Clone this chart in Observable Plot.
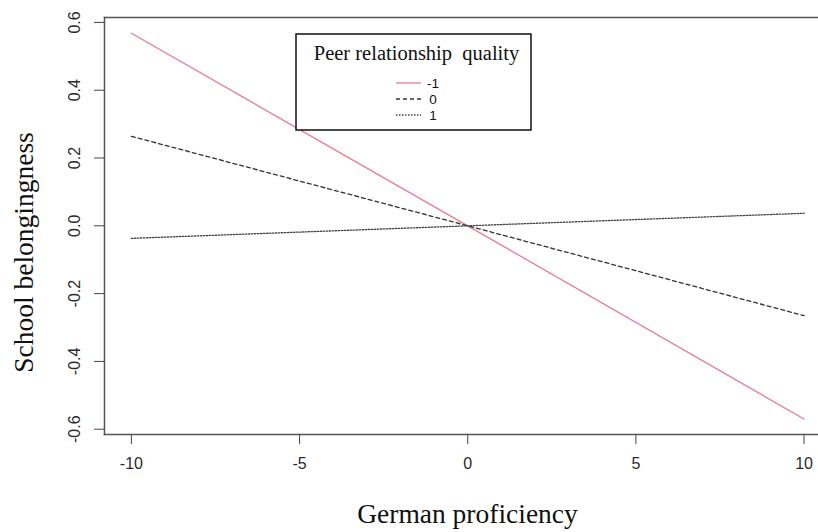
<!DOCTYPE html>
<html>
<head>
<meta charset="utf-8">
<script src="https://cdn.jsdelivr.net/npm/d3@7"></script>
<script src="https://cdn.jsdelivr.net/npm/@observablehq/plot@0.6"></script>
<style>
  html, body { margin: 0; padding: 0; background: #fff; }
  #chart svg { display: block; }
  #chart g[aria-label$="tick label"] { font-size: 16px; }
</style>
</head>
<body>
<div id="chart"></div>
<script>
// ---- data ----
const proficiency = [-10, 0, 10];
const levels = ["-1", "0", "1"];
const belongingLow = [0.568, 0.0, -0.570];   // peer quality -1
const belongingMid = [0.264, 0.0, -0.265];   // peer quality 0
const belongingHigh = [-0.037, 0.0, 0.037];  // peer quality 1
const xTicks = [-10, -5, 0, 5, 10];
const yTicks = [-0.6, -0.4, -0.2, 0.0, 0.2, 0.4, 0.6];
const xTitle = "German proficiency";
const yTitle = "School belongingness";
const legendTitle = "Peer relationship\u00A0 quality";

// ---- styles ----
const seriesStyles = [
  {stroke: "#e57b8d", strokeWidth: 1.3, strokeDasharray: null},
  {stroke: "#333333", strokeWidth: 1.3, strokeDasharray: "4,3"},
  {stroke: "#444444", strokeWidth: 1.3, strokeDasharray: "1.5,1.5"}
];
const seriesValues = [belongingLow, belongingMid, belongingHigh];
const rows = seriesValues.map(vals => proficiency.map((x, i) => ({x, y: vals[i]})));

const W = 818, H = 532;
const sansFont = "Liberation Sans, Arial, sans-serif";
const serifFont = "Liberation Serif, Times New Roman, serif";

const plot = Plot.plot({
  width: W,
  height: H,
  marginLeft: 104,
  marginRight: 0,
  marginTop: 17,
  marginBottom: 98,
  style: {fontFamily: sansFont, fontSize: "16px", color: "#2a2a2a", background: "#fff"},
  x: {domain: [-10.8, 10.43]},
  y: {domain: [-0.6156, 0.6145]},
  marks: [
    Plot.frame({anchor: "left", stroke: "#555", strokeWidth: 1.5}),
    Plot.frame({anchor: "top", stroke: "#555", strokeWidth: 1.5}),
    Plot.frame({anchor: "bottom", stroke: "#555", strokeWidth: 1.5}),
    Plot.axisX({ticks: xTicks, tickSize: 10, tickPadding: 13, tickFormat: d => String(d),
                label: null, stroke: "#444", fontSize: 16}),
    Plot.axisY({ticks: yTicks, tickSize: 10, tickPadding: 15, tickRotate: -90,
                tickFormat: d => d.toFixed(1), label: null, stroke: "#444", fontSize: 16}),
    ...rows.map((data, k) => Plot.line(data, {x: "x", y: "y", ...seriesStyles[k],
                                              strokeDasharray: seriesStyles[k].strokeDasharray || undefined}))
  ]
});

document.getElementById("chart").appendChild(plot);

// ---- axis titles and legend (pixel overlay) ----
const svg = d3.select(plot);
svg.append("text")
  .attr("x", 467.5).attr("y", 523)
  .attr("text-anchor", "middle")
  .style("font-family", serifFont).style("font-size", "27.5px").style("fill", "#111")
  .text(xTitle);
svg.append("text")
  .attr("transform", "translate(32.5,252.5) rotate(-90)")
  .attr("text-anchor", "middle")
  .style("font-family", serifFont).style("font-size", "27.5px").style("fill", "#111")
  .text(yTitle);

const lg = svg.append("g");
lg.append("rect").attr("x", 296).attr("y", 34).attr("width", 235).attr("height", 96)
  .attr("fill", "#fff").attr("stroke", "#111").attr("stroke-width", 1.5);
lg.append("text").attr("x", 416.5).attr("y", 60).attr("text-anchor", "middle")
  .style("font-family", serifFont).style("font-size", "20.5px").style("fill", "#111")
  .text(legendTitle);
levels.forEach((lab, k) => {
  const yy = 83 + k * 16;
  const ln = lg.append("line").attr("x1", 396).attr("x2", 421).attr("y1", yy).attr("y2", yy)
    .attr("stroke", seriesStyles[k].stroke).attr("stroke-width", seriesStyles[k].strokeWidth);
  if (seriesStyles[k].strokeDasharray) ln.attr("stroke-dasharray", seriesStyles[k].strokeDasharray);
  lg.append("text").attr("x", 433).attr("y", yy).attr("dy", "0.35em")
    .style("font-family", sansFont).style("font-size", "13.5px").style("fill", "#111")
    .text(lab);
});
</script>
</body>
</html>
